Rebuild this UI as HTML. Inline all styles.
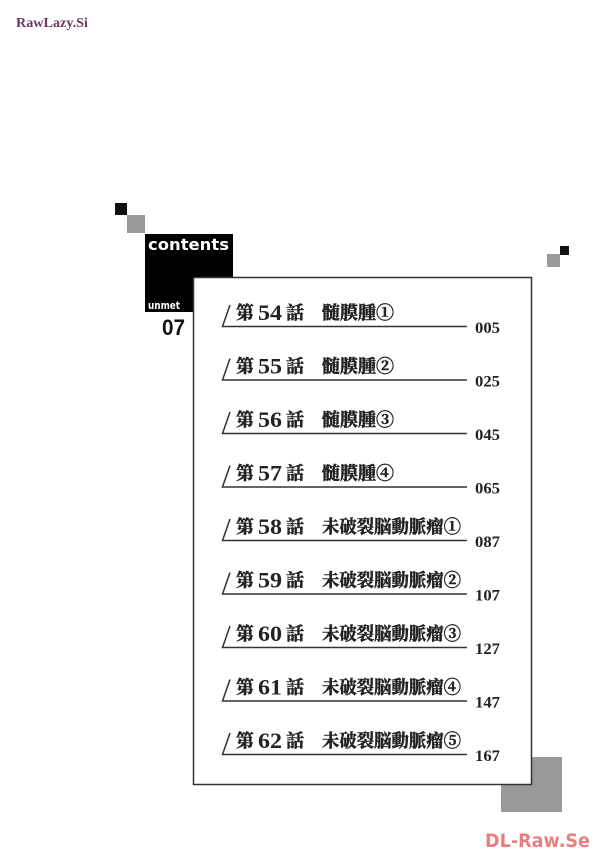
<!DOCTYPE html>
<html><head><meta charset="utf-8"><style>
html,body{margin:0;padding:0;background:#fff;}
svg{display:block;}
.cj{font-family:"Liberation Serif","Noto Serif CJK SC",serif;font-weight:700;fill:#222;stroke:#222;stroke-width:0.5;}
.dg{font-family:"Liberation Serif",serif;font-weight:700;fill:#222;}
</style></head><body>
<svg width="608" height="864" viewBox="0 0 608 864" xmlns="http://www.w3.org/2000/svg">
<rect width="608" height="864" fill="#fff"/>
<text x="16" y="27" font-family="Liberation Serif" font-weight="700" font-size="14" fill="#6b3b5a" textLength="72" lengthAdjust="spacingAndGlyphs">RawLazy.Si</text>
<rect x="115" y="203" width="12" height="12" fill="#111"/>
<rect x="127" y="215" width="18" height="18" fill="#9a9a9a"/>
<rect x="560" y="246" width="9" height="9" fill="#111"/>
<rect x="547" y="254" width="13" height="13" fill="#9a9a9a"/>
<rect x="501" y="757" width="61" height="55" fill="#999"/>
<rect x="145" y="234" width="88" height="78" fill="#000"/>
<text x="148" y="250" font-family="DejaVu Sans" font-weight="700" font-size="16" fill="#fff" textLength="81" lengthAdjust="spacingAndGlyphs">contents</text>
<text x="148" y="309" font-family="DejaVu Sans" font-weight="700" font-size="11" fill="#fff" textLength="32" lengthAdjust="spacingAndGlyphs">unmet</text>
<text x="162" y="335" font-family="Liberation Sans" font-weight="700" font-size="22" fill="#111" textLength="23" lengthAdjust="spacingAndGlyphs">07</text>
<rect x="193.5" y="277.5" width="338" height="507" fill="#fff" stroke="#333" stroke-width="1.5"/>
<g stroke="#333" stroke-width="1.5" fill="none">
<path d="M230 305 L222.5 326.5 L467 326.5"/>
<path d="M230 358.5 L222.5 380 L467 380"/>
<path d="M230 412 L222.5 433.5 L467 433.5"/>
<path d="M230 465.5 L222.5 487 L467 487"/>
<path d="M230 519 L222.5 540.5 L467 540.5"/>
<path d="M230 572.5 L222.5 594 L467 594"/>
<path d="M230 626 L222.5 647.5 L467 647.5"/>
<path d="M230 679.5 L222.5 701 L467 701"/>
<path d="M230 733 L222.5 754.5 L467 754.5"/>
</g>

<g font-size="18">
<text class="cj" x="236" y="319">第</text><text class="dg" x="258" y="320" font-size="22" textLength="24" lengthAdjust="spacingAndGlyphs">54</text><text class="cj" x="286" y="319">話</text>
<text class="cj" x="322" y="319" textLength="72" lengthAdjust="spacingAndGlyphs">髄膜腫①</text>
<text class="dg" x="475" y="333" font-size="16" textLength="25" lengthAdjust="spacingAndGlyphs">005</text>

<text class="cj" x="236" y="372.5">第</text><text class="dg" x="258" y="373.5" font-size="22" textLength="24" lengthAdjust="spacingAndGlyphs">55</text><text class="cj" x="286" y="372.5">話</text>
<text class="cj" x="322" y="372.5" textLength="72" lengthAdjust="spacingAndGlyphs">髄膜腫②</text>
<text class="dg" x="475" y="386.5" font-size="16" textLength="25" lengthAdjust="spacingAndGlyphs">025</text>

<text class="cj" x="236" y="426">第</text><text class="dg" x="258" y="427" font-size="22" textLength="24" lengthAdjust="spacingAndGlyphs">56</text><text class="cj" x="286" y="426">話</text>
<text class="cj" x="322" y="426" textLength="72" lengthAdjust="spacingAndGlyphs">髄膜腫③</text>
<text class="dg" x="475" y="440" font-size="16" textLength="25" lengthAdjust="spacingAndGlyphs">045</text>

<text class="cj" x="236" y="479.5">第</text><text class="dg" x="258" y="480.5" font-size="22" textLength="24" lengthAdjust="spacingAndGlyphs">57</text><text class="cj" x="286" y="479.5">話</text>
<text class="cj" x="322" y="479.5" textLength="72" lengthAdjust="spacingAndGlyphs">髄膜腫④</text>
<text class="dg" x="475" y="493.5" font-size="16" textLength="25" lengthAdjust="spacingAndGlyphs">065</text>

<text class="cj" x="236" y="533">第</text><text class="dg" x="258" y="534" font-size="22" textLength="24" lengthAdjust="spacingAndGlyphs">58</text><text class="cj" x="286" y="533">話</text>
<text class="cj" x="322" y="533" textLength="139" lengthAdjust="spacingAndGlyphs">未破裂脳動脈瘤①</text>
<text class="dg" x="475" y="547" font-size="16" textLength="25" lengthAdjust="spacingAndGlyphs">087</text>

<text class="cj" x="236" y="586.5">第</text><text class="dg" x="258" y="587.5" font-size="22" textLength="24" lengthAdjust="spacingAndGlyphs">59</text><text class="cj" x="286" y="586.5">話</text>
<text class="cj" x="322" y="586.5" textLength="139" lengthAdjust="spacingAndGlyphs">未破裂脳動脈瘤②</text>
<text class="dg" x="475" y="600.5" font-size="16" textLength="25" lengthAdjust="spacingAndGlyphs">107</text>

<text class="cj" x="236" y="640">第</text><text class="dg" x="258" y="641" font-size="22" textLength="24" lengthAdjust="spacingAndGlyphs">60</text><text class="cj" x="286" y="640">話</text>
<text class="cj" x="322" y="640" textLength="139" lengthAdjust="spacingAndGlyphs">未破裂脳動脈瘤③</text>
<text class="dg" x="475" y="654" font-size="16" textLength="25" lengthAdjust="spacingAndGlyphs">127</text>

<text class="cj" x="236" y="693.5">第</text><text class="dg" x="258" y="694.5" font-size="22" textLength="24" lengthAdjust="spacingAndGlyphs">61</text><text class="cj" x="286" y="693.5">話</text>
<text class="cj" x="322" y="693.5" textLength="139" lengthAdjust="spacingAndGlyphs">未破裂脳動脈瘤④</text>
<text class="dg" x="475" y="707.5" font-size="16" textLength="25" lengthAdjust="spacingAndGlyphs">147</text>

<text class="cj" x="236" y="747">第</text><text class="dg" x="258" y="748" font-size="22" textLength="24" lengthAdjust="spacingAndGlyphs">62</text><text class="cj" x="286" y="747">話</text>
<text class="cj" x="322" y="747" textLength="139" lengthAdjust="spacingAndGlyphs">未破裂脳動脈瘤⑤</text>
<text class="dg" x="475" y="761" font-size="16" textLength="25" lengthAdjust="spacingAndGlyphs">167</text>
</g>

<text x="485" y="847" font-family="DejaVu Sans" font-weight="700" font-size="19" fill="#e87f7f" textLength="105" lengthAdjust="spacingAndGlyphs">DL-Raw.Se</text>
</svg>
</body></html>
